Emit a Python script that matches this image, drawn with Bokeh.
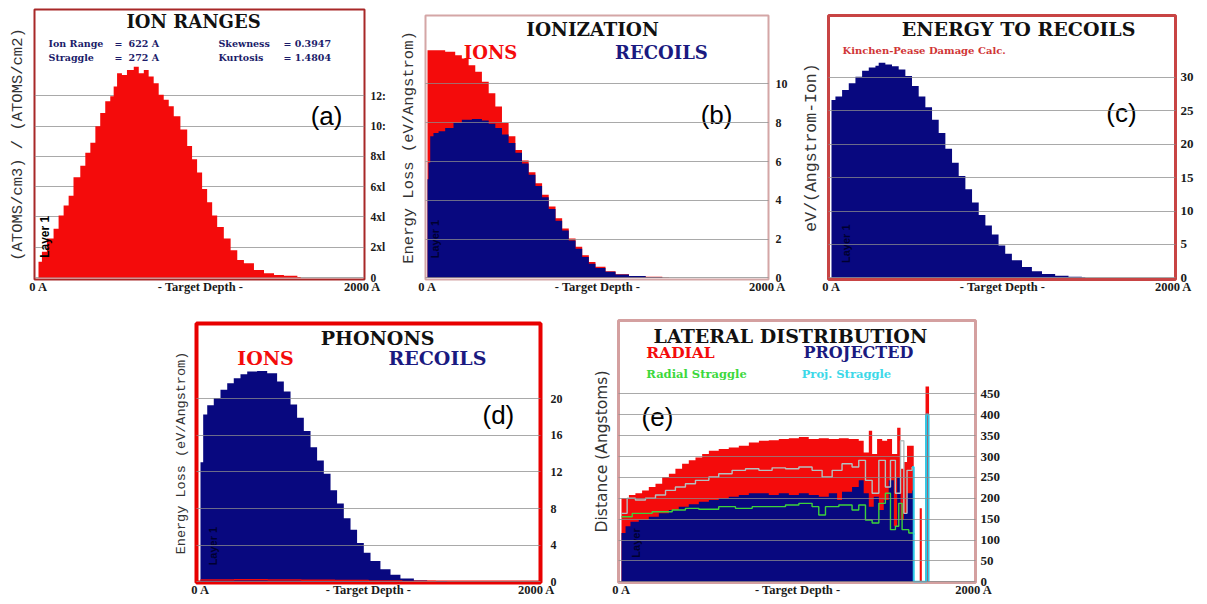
import math
from bokeh.plotting import figure
from bokeh.models import Range1d, LinearAxis, FixedTicker, Label
from bokeh.layouts import column, row
from bokeh.embed import file_html
from bokeh.resources import INLINE

RED = "#f40b0b"
NAVY = "#08087f"
SERIF = "Liberation Serif"
DSERIF = "DejaVu Serif"
MONO = "Liberation Mono"
SANS = "Liberation Sans"

# ---------------- (a) ION RANGES ----------------
a_depth = [0, 21, 52, 93, 124, 155, 186, 216, 258, 289, 320, 351, 381, 412, 443, 464, 485, 515, 546, 588,
           619, 650, 680, 711, 742, 773, 804, 835, 876, 918, 948, 979, 1010, 1041, 1072, 1103, 1144, 1186,
           1227, 1268, 1330, 1392, 1454, 1515, 1598, 1619]
a_ions = [1.05, 1.70, 2.58, 3.23, 4.10, 4.76, 5.41, 6.62, 7.38, 8.25, 8.91, 10.0, 10.87, 11.64, 11.97, 12.62,
          13.49, 13.38, 13.71, 13.93, 13.49, 13.71, 13.28, 12.84, 12.07, 11.75, 11.31, 10.66, 9.78, 8.69, 7.82,
          6.94, 5.85, 4.98, 4.10, 3.34, 2.58, 1.81, 1.16, 0.94, 0.50, 0.28, 0.17, 0.11, 0.04, 0.0]
a_ticks = [0, 2, 4, 6, 8, 10, 12]
a_tick_labels = ["0", "2xl", "4xl", "6xl", "8xl", "10:", "12:"]

# ---------------- (b) IONIZATION ----------------
b_ion_depth = [0, 65, 104, 163, 202, 242, 281, 320, 360, 399, 438, 477, 517, 556, 595, 635, 674, 713, 753,
               792, 831, 871, 910, 949, 988, 1047, 1106, 1185, 1283, 1381, 1421]
b_ions = [11.74, 11.74, 11.66, 11.48, 11.31, 10.97, 10.63, 10.12, 9.52, 8.84, 7.99, 7.30, 6.60, 6.05, 5.45,
          4.88, 4.28, 3.68, 3.07, 2.55, 2.03, 1.60, 1.17, 0.81, 0.57, 0.34, 0.19, 0.10, 0.05, 0.02, 0.0]
b_rec_depth = [0, 6, 16, 35, 65, 104, 153, 202, 261, 320, 360, 399, 438, 477, 517, 556, 595, 635, 674, 713,
               753, 792, 831, 871, 910, 949, 988, 1047, 1106, 1185, 1283, 1381]
b_recoils = [5.09, 5.94, 7.30, 7.47, 7.56, 7.73, 7.99, 8.16, 8.19, 8.11, 7.95, 7.73, 7.39, 6.96, 6.45, 5.90,
             5.32, 4.74, 4.15, 3.55, 2.95, 2.44, 1.93, 1.50, 1.08, 0.73, 0.51, 0.31, 0.17, 0.09, 0.03, 0.0]
b_ticks = [0, 2, 4, 6, 8, 10]

# ---------------- (c) ENERGY TO RECOILS ----------------
c_depth = [0, 23, 62, 101, 140, 179, 218, 257, 276, 315, 354, 393, 432, 471, 510, 549, 588, 627, 666, 705,
           744, 783, 822, 861, 900, 938, 977, 1016, 1055, 1114, 1172, 1231, 1308, 1386, 1464, 1484]
c_recoils = [26.63, 27.13, 28.12, 29.11, 30.10, 30.99, 31.49, 31.73, 32.18, 31.93, 31.68, 31.19, 30.20, 28.71,
             27.13, 25.54, 23.66, 21.68, 19.31, 17.23, 15.25, 13.27, 11.29, 9.41, 7.82, 6.49, 4.85, 3.61, 2.62,
             1.63, 0.99, 0.59, 0.30, 0.15, 0.10, 0.0]
c_ticks = [0, 5, 10, 15, 20, 25, 30]

# ---------------- (d) PHONONS ----------------
d_depth = [0, 16, 40, 79, 119, 159, 198, 238, 278, 337, 397, 456, 496, 536, 575, 615, 655, 694, 734, 774,
           813, 853, 893, 932, 972, 1012, 1071, 1131, 1190, 1270, 1349, 1468]
d_recoils = [13.06, 18.27, 19.28, 20.07, 20.97, 21.69, 22.23, 22.66, 22.95, 23.02, 22.77, 21.87, 20.79, 19.35,
             17.91, 16.47, 14.68, 13.24, 11.80, 10.00, 8.56, 6.94, 5.68, 4.24, 3.17, 2.27, 1.37, 0.76, 0.36,
             0.14, 0.07, 0.0]
d_ion_depth = [0, 200, 400, 600, 800, 1000, 1200, 1400]
d_ions = [0.20, 0.22, 0.20, 0.17, 0.13, 0.08, 0.04, 0.0]
d_ticks = [0, 4, 8, 12, 16, 20]

# ---------------- (e) LATERAL DISTRIBUTION ----------------
e_rad_depth = [0, 42, 79, 117, 155, 193, 231, 269, 306, 344, 382, 420, 458, 496, 552, 609, 666, 723, 780, 836,
               893, 950, 1007, 1063, 1120, 1177, 1234, 1290, 1347, 1375, 1404, 1423, 1451, 1480, 1508, 1536,
               1565, 1584, 1603, 1621, 1659, 1693, 1705, 1726, 1746]
e_radial = [200, 208, 212, 219, 227, 235, 251, 259, 271, 283, 291, 298, 306, 314, 318, 322, 326, 334, 338, 339,
            342, 344, 347, 342, 344, 342, 344, 342, 338, 310, 362, 306, 342, 338, 342, 306, 369, 271, 287, 326,
            0, 176, 0, 468, 0]
e_proj_depth = [0, 23, 51, 98, 155, 212, 269, 325, 382, 439, 496, 552, 609, 666, 723, 780, 836, 893, 950, 1007,
                1063, 1120, 1177, 1224, 1252, 1309, 1347, 1375, 1404, 1432, 1461, 1489, 1517, 1546, 1565, 1584,
                1603, 1621, 1650, 1659]
e_projected = [117, 133, 144, 148, 156, 164, 172, 180, 186, 192, 196, 200, 204, 208, 212, 212, 208, 212, 208,
               212, 208, 204, 212, 196, 216, 227, 243, 212, 180, 204, 172, 196, 243, 133, 251, 148, 164, 212,
               219, 0]
e_rs_depth = [0, 61, 174, 288, 363, 439, 552, 647, 742, 855, 931, 1007, 1082, 1120, 1158, 1234, 1309, 1347,
              1385, 1423, 1461, 1498, 1527, 1555, 1574, 1593, 1631, 1659]
e_radial_straggle = [156, 164, 168, 172, 176, 174, 180, 176, 180, 180, 184, 188, 180, 160, 180, 184, 172, 184,
                     148, 141, 188, 212, 125, 133, 188, 125, 117, 113]
e_ps_depth = [0, 32, 79, 136, 193, 250, 306, 363, 420, 496, 552, 628, 704, 780, 855, 931, 1007, 1082, 1139,
              1196, 1252, 1309, 1347, 1385, 1423, 1461, 1498, 1527, 1555, 1584, 1603, 1621, 1650, 1659, 1729, 1743]
e_proj_straggle = [164, 200, 196, 200, 208, 219, 227, 235, 243, 251, 259, 267, 271, 267, 273, 271, 275, 267,
                   251, 267, 283, 275, 291, 243, 212, 291, 227, 291, 212, 338, 164, 267, 275, 0, 401, 0]
e_ticks = [0, 50, 100, 150, 200, 250, 300, 350, 400, 450]

x_ticks = [0, 1000, 2000]
x_tick_labels = ["0 A", "- Target Depth -", "2000 A"]


def quiet(ax):
    ax.axis_line_color = None
    ax.major_tick_line_color = None
    ax.minor_tick_line_color = None
    ax.major_tick_out = 0
    ax.major_tick_in = 0
    ax.minor_tick_out = 0
    ax.minor_tick_in = 0


def no_label(ax):
    ax.axis_label = None
    ax.axis_label_standoff = 0
    ax.axis_label_text_font_size = "0px"


def panel(w, h, borders, x0, a_per_px, y0, u_per_px, yticks, ytick_labels, ytick_size, ytick_standoff,
          ylabel, ylabel_font, ylabel_size, outline_color, outline_width, grid_level):
    left, right, top, bottom = borders
    fw = w - left - right
    fh = h - top - bottom
    p = figure(width=w, height=h, x_range=Range1d(x0, x0 + fw * a_per_px),
               y_range=Range1d(y0, y0 + fh * u_per_px),
               output_backend="svg", toolbar_location=None, y_axis_location="right",
               min_border_left=left, min_border_right=right,
               min_border_top=top, min_border_bottom=bottom, frame_align=False)
    p.background_fill_color = "white"
    p.border_fill_color = "white"
    p.outline_line_color = outline_color
    p.outline_line_width = outline_width

    xa = p.xaxis[0]
    quiet(xa)
    no_label(xa)
    xa.ticker = FixedTicker(ticks=x_ticks)
    xa.major_label_overrides = dict(zip(x_ticks, x_tick_labels))
    xa.major_label_standoff = 0
    xa.major_label_text_font = SERIF
    xa.major_label_text_font_style = "bold"
    xa.major_label_text_font_size = "12.5px"
    xa.major_label_text_color = "#1a1a1a"

    ya = p.yaxis[0]
    quiet(ya)
    no_label(ya)
    ya.ticker = FixedTicker(ticks=yticks)
    ya.major_label_overrides = dict(zip(yticks, ytick_labels))
    ya.major_label_standoff = ytick_standoff
    ya.major_label_text_font = SERIF
    ya.major_label_text_font_style = "bold"
    ya.major_label_text_font_size = ytick_size
    ya.major_label_text_color = "#1a1a1a"

    la = LinearAxis(ticker=FixedTicker(ticks=[]), axis_label=ylabel)
    quiet(la)
    la.major_label_standoff = 0
    la.major_label_text_font_size = "0px"
    la.axis_label_standoff = 8
    la.axis_label_text_font = ylabel_font
    la.axis_label_text_font_style = "normal"
    la.axis_label_text_font_size = ylabel_size
    la.axis_label_text_color = "#333333"
    p.add_layout(la, "left")

    p.xgrid.grid_line_color = None
    p.ygrid.grid_line_color = "#8c8c8c"
    p.ygrid.grid_line_alpha = 0.75
    p.ygrid.level = grid_level
    return p


def txt(p, x, y, text, size, color, font=DSERIF, style="bold", align="center", angle=0.0):
    p.add_layout(Label(x=x, y=y, text=text, text_font=font, text_font_size=size,
                       text_font_style=style, text_color=color, text_align=align,
                       text_baseline="middle", angle=angle))


STAT = "#1c1c6a"

# ---- (a)
pa = panel(392, 296, (34, 28, 9, 15), -24.7, 6.173, -0.13, 1 / 15.25, a_ticks, a_tick_labels,
           "11.5px", 6, "(ATOMS/cm3) / (ATOMS/cm2)", MONO, "15.5px", "#a82828", 2, "underlay")
pa.varea_step(x=a_depth, y1=0, y2=a_ions, step_mode="after", fill_color=RED)
txt(pa, 957, 16.92, "ION RANGES", "18px", "#111111")
txt(pa, 62, 15.48, "Ion Range", "9.5px", STAT, align="left")
txt(pa, 494, 15.48, "=", "9.5px", STAT)
txt(pa, 556, 15.48, "622 A", "9.5px", STAT, align="left")
txt(pa, 62, 14.56, "Straggle", "9.5px", STAT, align="left")
txt(pa, 494, 14.56, "=", "9.5px", STAT)
txt(pa, 556, 14.56, "272 A", "9.5px", STAT, align="left")
txt(pa, 1111, 15.48, "Skewness", "9.5px", STAT, align="left")
txt(pa, 1512, 15.48, "= 0.3947", "9.5px", STAT, align="left")
txt(pa, 1111, 14.56, "Kurtosis", "9.5px", STAT, align="left")
txt(pa, 1512, 14.56, "= 1.4804", "9.5px", STAT, align="left")
txt(pa, 1778, 10.69, "(a)", "26px", "#000000", font=SANS, style="normal")
txt(pa, 43, 2.69, "Layer 1", "12px", "#000000", font=SANS, angle=math.pi / 2)

# ---- (b)
pb = panel(398, 296, (33, 22, 15, 15), -11.8, 5.882, -0.087, 1 / 19.53, b_ticks, [str(t) for t in b_ticks],
           "12px", 7, "Energy Loss (eV/Angstrom)", MONO, "15.5px", "#d4a6a6", 2, "overlay")
pb.varea_step(x=b_ion_depth, y1=0, y2=b_ions, step_mode="after", fill_color=RED)
pb.varea_step(x=b_rec_depth, y1=0, y2=b_recoils, step_mode="after", fill_color=NAVY)
txt(pb, 971, 12.82, "IONIZATION", "18.5px", "#111111")
txt(pb, 371, 11.64, "IONS", "18px", RED)
txt(pb, 1376, 11.64, "RECOILS", "18px", "#1a1a80")
txt(pb, 1700, 8.41, "(b)", "26px", "#000000", font=SANS, style="normal")
txt(pb, 47, 2.0, "Layer 1", "11px", "#000030", font=SANS, angle=math.pi / 2)

# ---- (c)
pc = panel(409, 296, (38, 24, 15, 15), -17.5, 5.848, -0.25, 1 / 6.733, c_ticks, [str(t) for t in c_ticks],
           "13px", 5, "eV/(Angstrom-Ion)", MONO, "16.5px", "#c84444", 3, "overlay")
pc.varea_step(x=c_depth, y1=0, y2=c_recoils, step_mode="after", fill_color=NAVY)
txt(pc, 1094, 37.18, "ENERGY TO RECOILS", "19px", "#111111")
txt(pc, 64, 34.06, "Kinchen-Pease Damage Calc.", "10px", "#d03535", align="left")
txt(pc, 1696, 24.7, "(c)", "26px", "#000000", font=SANS, style="normal")
txt(pc, 82, 5.1, "Layer 1", "11px", "#000030", font=SANS, angle=math.pi / 2)

# ---- (d)
pd_ = panel(575, 303, (196, 35, 27, 14), -23.8, 5.952, -0.076, 1 / 9.265, d_ticks, [str(t) for t in d_ticks],
            "12px", 10, "Energy Loss (eV/Angstrom)", MONO, "13.5px", "#e80000", 4, "overlay")
pd_.varea_step(x=d_depth, y1=0, y2=d_recoils, step_mode="after", fill_color=NAVY)
pd_.step(x=d_ion_depth, y=d_ions, mode="after", line_color=RED, line_width=1.5)
txt(pd_, 1054, 26.6, "PHONONS", "19px", "#111111")
txt(pd_, 387, 24.4, "IONS", "19px", RED)
txt(pd_, 1410, 24.4, "RECOILS", "19px", "#1a1a80")
txt(pd_, 1773, 18.2, "(d)", "26px", "#000000", font=SANS, style="normal")
txt(pd_, 77, 3.9, "Layer 1", "11px", "#000030", font=SANS, angle=math.pi / 2)

# ---- (e)
pe = panel(430, 303, (43, 30, 24, 14), -17.0, 5.677, -1.66, 1 / 0.4222, e_ticks, [str(t) for t in e_ticks],
           "13px", 5, "Distance (Angstoms)", "DejaVu Sans", "15.5px", "#d4a0a0", 3, "overlay")
pe.varea_step(x=e_rad_depth, y1=0, y2=e_radial, step_mode="after", fill_color=RED)
pe.varea_step(x=e_proj_depth, y1=0, y2=e_projected, step_mode="after", fill_color=NAVY)
pe.step(x=e_rs_depth, y=e_radial_straggle, mode="after", line_color="#3cd23c", line_width=1.4)
pe.step(x=e_ps_depth[:33], y=e_proj_straggle[:33], mode="after", line_color="#b4c0c0", line_width=1.4)
pe.step(x=e_ps_depth[32:], y=e_proj_straggle[32:], mode="after", line_color="#2ec8e6", line_width=2.0)
txt(pe, 959, 590, "LATERAL DISTRIBUTION", "19px", "#111111")
txt(pe, 335, 550, "RADIAL", "15.5px", RED)
txt(pe, 1345, 550, "PROJECTED", "16px", "#1a1a80")
txt(pe, 426, 498, "Radial Straggle", "11.5px", "#3cd83c")
txt(pe, 1277, 498, "Proj. Straggle", "11.5px", "#3cd8e8")
txt(pe, 204, 396, "(e)", "26px", "#000000", font=SANS, style="normal")
txt(pe, 80, 93, "Layer", "11px", "#000030", font=SANS, angle=math.pi / 2)

layout = column(row(pa, pb, pc), row(pd_, pe))
open("out.html", "w").write(file_html(layout, INLINE))
